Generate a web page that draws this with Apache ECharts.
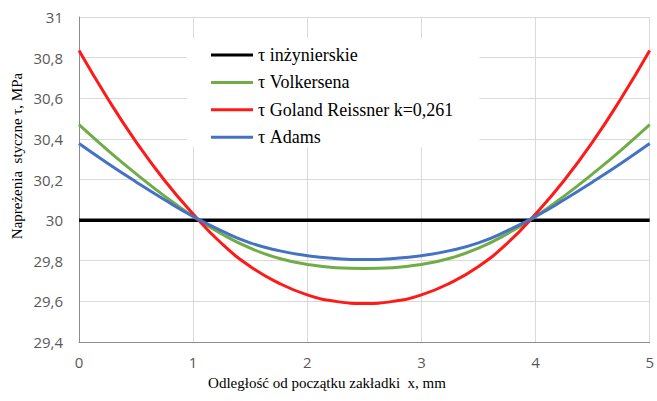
<!DOCTYPE html>
<html>
<head>
<meta charset="utf-8">
<script src="https://cdn.jsdelivr.net/npm/echarts@6/dist/echarts.min.js"></script>
<style>html,body{margin:0;padding:0;background:#fff}#c{width:657px;height:401px}</style>
</head>
<body>
<div id="c"></div>
<script>
const xValues = [0, 0.25, 0.5, 0.75, 1, 1.25, 1.5, 1.75, 2, 2.25, 2.5, 2.75, 3, 3.25, 3.5, 3.75, 4, 4.25, 4.5, 4.75, 5];
const tauInz = [30, 30, 30, 30, 30, 30, 30, 30, 30, 30, 30, 30, 30, 30, 30, 30, 30, 30, 30, 30, 30];
const tauVolkersen = [30.47, 30.345, 30.228, 30.118, 30.018, 29.932, 29.862, 29.812, 29.782, 29.766, 29.762, 29.766, 29.782, 29.812, 29.862, 29.932, 30.018, 30.118, 30.228, 30.345, 30.47];
const tauGoland = [30.835, 30.60, 30.385, 30.195, 30.03, 29.885, 29.772, 29.69, 29.632, 29.6, 29.59, 29.6, 29.632, 29.69, 29.772, 29.885, 30.03, 30.195, 30.385, 30.60, 30.835];
const tauAdams = [30.377, 30.28, 30.188, 30.1, 30.018, 29.947, 29.888, 29.85, 29.825, 29.811, 29.806, 29.811, 29.825, 29.85, 29.888, 29.947, 30.018, 30.1, 30.188, 30.28, 30.377];
const seriesNames = ['τ inżynierskie', 'τ Volkersena', 'τ Goland Reissner k=0,261', 'τ Adams'];
const xTitle = 'Odległość od początku zakładki  x, mm';
const yTitle = 'Napreżenia  styczne τ, MPa';

const pair = arr => xValues.map((x, i) => [x, arr[i]]);
const colors = ['#000000', '#70ad47', '#ff1a1a', '#4472c4'];
const dataSets = [tauInz, tauVolkersen, tauGoland, tauAdams];
const fmt = v => (Math.round(v * 10) / 10).toString().replace('.', ',');
const SERIF = '"Liberation Serif", "Times New Roman", "DejaVu Serif", serif';

const chart = echarts.init(document.getElementById('c'), null, {renderer: 'svg'});
chart.setOption({
  animation: false,
  backgroundColor: '#ffffff',
  grid: {left: 79, right: 3, top: 17, bottom: 59, containLabel: false},
  xAxis: {
    type: 'value', min: 0, max: 5, interval: 1,
    axisLine: {show: true, lineStyle: {color: '#8c8c8c', width: 1}},
    axisTick: {show: false},
    splitLine: {show: true, lineStyle: {color: '#d9d9d9', width: 1}},
    axisLabel: {color: '#595959', fontFamily: 'Open Sans', fontSize: 15, margin: 12, formatter: fmt}
  },
  yAxis: {
    type: 'value', min: 29.4, max: 31, interval: 0.2,
    axisLine: {show: true, lineStyle: {color: '#8c8c8c', width: 1}},
    axisTick: {show: false},
    splitLine: {show: true, lineStyle: {color: '#d9d9d9', width: 1}},
    axisLabel: {color: '#595959', fontFamily: 'Open Sans', fontSize: 15, margin: 16, formatter: fmt}
  },
  legend: {
    left: 187, top: 38, orient: 'vertical',
    backgroundColor: '#ffffff',
    padding: [7, 26, 0, 24],
    itemWidth: 42, itemHeight: 3, itemGap: 7.4,
    icon: 'rect',
    textStyle: {fontFamily: SERIF, fontSize: 18, color: '#000', lineHeight: 20},
    data: seriesNames
  },
  graphic: [
    {type: 'text', x: 327, y: 383, style: {text: xTitle, fontFamily: SERIF, fontSize: 15, fill: '#000', align: 'center', verticalAlign: 'middle'}},
    {type: 'text', x: 17, y: 156, rotation: Math.PI / 2, style: {text: yTitle, fontFamily: SERIF, fontSize: 15, fill: '#000', align: 'center', verticalAlign: 'middle'}}
  ],
  series: dataSets.map((d, i) => ({
    name: seriesNames[i], type: 'line', data: pair(d), smooth: true, symbol: 'none',
    lineStyle: {color: colors[i], width: i === 0 ? 3.5 : 3},
    itemStyle: {color: colors[i]},
    z: 2 + i
  }))
});
</script>
</body>
</html>
